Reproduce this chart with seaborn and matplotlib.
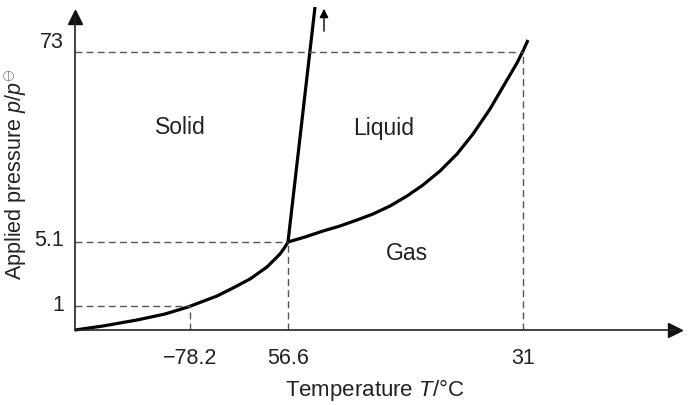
import matplotlib
matplotlib.use("Agg")
import matplotlib.pyplot as plt
from matplotlib.transforms import ScaledTranslation
import seaborn as sns
import pandas as pd

# ---- data (schematic units) ----
sub_T = [0, 28, 62, 90, 113, 142, 158, 175, 192, 205, 210, 213]
sub_p = [0, 4, 10, 16, 23, 34, 42, 51, 63, 76, 83, 88]
vap_T = [213, 230, 248, 265, 282, 298, 315, 332, 348, 365, 382, 398, 415, 432, 442, 448, 453]
vap_p = [88, 93, 99, 104, 110, 116, 124, 134, 145, 159, 176, 196, 221, 250, 267, 279, 290]
melt_T = [213, 240]
melt_p = [88, 323]

x_tick_pos = [115, 213, 448]
x_tick_labels = ["\u221278.2", "56.6", "31"]
y_tick_pos = [24, 88, 278]
y_tick_labels = ["1", "5.1", "73"]

regions = ["Solid", "Liquid", "Gas"]
region_T = [105, 309, 332]
region_p = [204, 203, 77]

sns.set_style("white")
plt.rcParams["font.family"] = ["Liberation Sans", "DejaVu Sans"]
plt.rcParams["mathtext.fontset"] = "custom"
plt.rcParams["mathtext.rm"] = "Liberation Sans"
plt.rcParams["mathtext.it"] = "Liberation Sans:italic"

W, H = 692, 406
fig = plt.figure(figsize=(W / 100, H / 100), dpi=100)
ax = fig.add_axes([75 / W, 75 / H, 600 / W, 313 / H])
ax.set_xlim(0, 600)
ax.set_ylim(0, 313)

df = pd.concat([
    pd.DataFrame({"T": sub_T, "p": sub_p, "curve": "sub"}),
    pd.DataFrame({"T": vap_T, "p": vap_p, "curve": "vap"}),
    pd.DataFrame({"T": melt_T, "p": melt_p, "curve": "melt"}),
])
sns.lineplot(data=df, x="T", y="p", units="curve", estimator=None, sort=False,
             color="black", lw=2.3, ax=ax, legend=False)
for ln in ax.lines:
    ln.set_clip_on(False)
    ln.set_solid_capstyle("butt")
    ln.set_solid_joinstyle("round")

# dashed guide lines
for xt, yt in zip(x_tick_pos, y_tick_pos):
    ax.plot([0, xt], [yt, yt], color="#555555", lw=1.0, dashes=(5, 3))
    ax.plot([xt, xt], [0, yt], color="#555555", lw=1.0, dashes=(5, 3))

# small arrow above melting line
ax.annotate("", xy=(249, 324), xytext=(249, 296),
            arrowprops=dict(arrowstyle="-|>", color="black", lw=1.0, mutation_scale=13),
            annotation_clip=False)

for name, t, p in zip(regions, region_T, region_p):
    ax.text(t, p, name, ha="center", va="center", fontsize=16.5, color="#222222")

# axes styling
sns.despine(ax=ax)
for s in ["left", "bottom"]:
    ax.spines[s].set_linewidth(1.2)
    ax.spines[s].set_color("#222222")
ax.plot([1], [0], marker=">", ms=10, color="#111111", transform=ax.transAxes, clip_on=False)
ax.plot([0], [1], marker="^", ms=10, color="#111111", transform=ax.transAxes, clip_on=False)

ax.set_xticks(x_tick_pos)
ax.set_xticklabels(x_tick_labels)
ax.set_yticks(y_tick_pos)
ax.set_yticklabels(y_tick_labels)
ax.tick_params(axis="x", length=0, pad=12, labelsize=15.5, labelcolor="#222222")
ax.tick_params(axis="y", length=0, pad=8, labelsize=15.5, labelcolor="#222222")
offs = [4, 5, 13]
for lab, o in zip(ax.get_yticklabels(), offs):
    lab.set_transform(lab.get_transform() + ScaledTranslation(0, o / 100, fig.dpi_scale_trans))

ax.set_xlabel("Temperature $T$/\u00b0C", fontsize=16, color="#222222", labelpad=6)
ax.set_ylabel("Applied pressure $p/p^{\\ominus}$", fontsize=15.5, color="#222222", labelpad=4)

fig.savefig("out.png", dpi=100)
